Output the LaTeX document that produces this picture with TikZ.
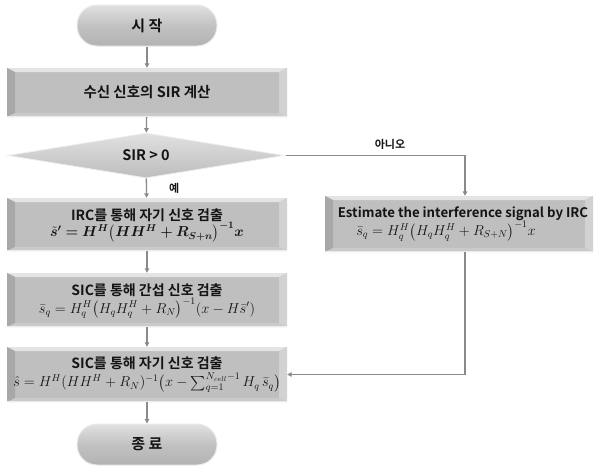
\documentclass[tikz,border=0pt]{standalone}
\usepackage{amsmath,bm}
\usepackage{fontspec}
\newfontfamily\kr{Noto Sans CJK KR}[BoldFont={* Bold}]
\usetikzlibrary{shapes.geometric,arrows.meta}
\definecolor{bxbody}{HTML}{BFBFBF}
\definecolor{bxtop}{HTML}{E4E4E4}
\definecolor{bxleft}{HTML}{A8A8A8}
\definecolor{bxright}{HTML}{D2D2D2}
\definecolor{bxbot}{HTML}{CACACA}
\definecolor{txt}{HTML}{141414}
\definecolor{ln}{HTML}{8A8A8A}
\tikzset{
  bevelbox/.style={rectangle, inner sep=0pt, fill=bxbody, text=txt, align=center,
    font=\kr\bfseries\fontsize{14.5}{17}\selectfont,
    path picture={
      \fill[bxtop] (path picture bounding box.north west) -- (path picture bounding box.north east)
        -- ([xshift=-8pt,yshift=-4pt]path picture bounding box.north east)
        -- ([xshift=8pt,yshift=-4pt]path picture bounding box.north west) -- cycle;
      \fill[bxleft] (path picture bounding box.north west)
        -- ([xshift=8pt,yshift=-4pt]path picture bounding box.north west)
        -- ([xshift=8pt,yshift=4pt]path picture bounding box.south west)
        -- (path picture bounding box.south west) -- cycle;
      \fill[bxright] (path picture bounding box.north east)
        -- ([xshift=-8pt,yshift=-4pt]path picture bounding box.north east)
        -- ([xshift=-8pt,yshift=4pt]path picture bounding box.south east)
        -- (path picture bounding box.south east) -- cycle;
      \fill[bxbot] (path picture bounding box.south west)
        -- ([xshift=8pt,yshift=4pt]path picture bounding box.south west)
        -- ([xshift=-8pt,yshift=4pt]path picture bounding box.south east)
        -- (path picture bounding box.south east) -- cycle;
      \draw[white!92!black,line width=1.2pt] ([yshift=0.6pt]path picture bounding box.south west) -- ([yshift=0.6pt]path picture bounding box.south east);
    }},
  pill/.style={rectangle, rounded corners=20pt, inner sep=0pt, minimum width=140pt, minimum height=41pt,
    top color=white!88!black, bottom color=white!70!black, middle color=white!76!black,
    draw=white!92!black, line width=1pt, text=txt, font=\kr\bfseries\fontsize{15}{17}\selectfont},
  decision/.style={diamond, aspect=6, inner sep=0pt, minimum width=276pt, minimum height=45pt,
    top color=white!88!black, bottom color=white!74!black, draw=white!93!black, line width=0.8pt,
    text=txt, font=\kr\bfseries\fontsize{14.5}{16}\selectfont},
  ttl/.style={inner sep=0pt, text=txt, font=\kr\bfseries\fontsize{14}{16}\selectfont},
  eqn/.style={inner sep=0pt, text=txt, font=\fontsize{14}{16}\selectfont},
  conn/.style={draw=ln, line width=1.3pt, -{Triangle[length=4.5pt,width=4.5pt]}},
  lbl/.style={text=txt, font=\kr\bfseries\fontsize{11}{13}\selectfont, inner sep=0pt}
}
\begin{document}
\begin{tikzpicture}[x=1pt,y=-1pt]
\useasboundingbox[fill=white] (0,0) rectangle (602,469);
\node[pill] (start) at (147,25.5) {시 작};
\node[bevelbox, minimum width=280pt, minimum height=49pt] (calc) at (147,92.5) {수신 신호의 SIR 계산};
\node[decision] (dec) at (146,155.5) {SIR > 0};
% IRC box
\node[bevelbox, minimum width=280pt, minimum height=53pt] (irc) at (147,224.5) {};
\node[ttl] (irc-t) at ([yshift=9pt]irc.center) {IRC를 통해 자기 신호 검출};
\node[eqn] (irc-e) at ([yshift=-7.5pt]irc.center) {$\bm{\tilde{s}' = H^{H}\bigl(HH^{H} + R_{S+n}\bigr)^{-1}x}$};
% SIC 1
\node[bevelbox, minimum width=280pt, minimum height=54pt] (sic1) at (147,300) {};
\node[ttl] (sic1-t) at ([yshift=9.5pt]sic1.center) {SIC를 통해 간섭 신호 검출};
\node[eqn] (sic1-e) at ([yshift=-8.5pt]sic1.center) {$\bar{s}_q = H_q^{H}\bigl(H_qH_q^{H} + R_N\bigr)^{-1}(x - H\bar{s}')$};
% SIC 2
\node[bevelbox, minimum width=280pt, minimum height=55pt] (sic2) at (147,374.5) {};
\node[ttl] (sic2-t) at ([yshift=11pt]sic2.center) {SIC를 통해 자기 신호 검출};
\node[eqn] (sic2-e) at ([yshift=-8.5pt]sic2.center) {$\hat{s} = H^{H}(HH^{H} + R_N)^{-1}\bigl(x - \textstyle\sum_{q=1}^{N_{cell}-1} H_q\,\bar{s}_q\bigr)$};
\node[pill] (stop) at (147,444.5) {종 료};
% right box
\node[bevelbox, minimum width=268pt, minimum height=56pt] (est) at (459,224) {};
\node[ttl, font=\kr\bfseries\fontsize{13.2}{15}\selectfont] (est-t) at ([xshift=4pt,yshift=10pt]est.center) {Estimate the interference signal by IRC};
\node[eqn, font=\fontsize{13.6}{15}\selectfont] (est-e) at ([xshift=-13pt,yshift=-7pt]est.center) {$\bar{s}_q = H_q^{H}\bigl(H_qH_q^{H} + R_{S+N}\bigr)^{-1}x$};
\coordinate (c1) at (465,155.5);
\coordinate (c2) at (465,374.5);
\draw[conn] (start) -- (calc);
\draw[conn] (calc) -- (dec);
\draw[conn] (dec) -- node[lbl, right=22pt, pos=0.5] (yes) {예} (irc);
\draw[conn] (irc) -- (sic1);
\draw[conn] (sic1) -- (sic2);
\draw[conn] (sic2) -- (stop);
\draw[conn] ([xshift=2pt]dec.east) -- (c1) -- (est.north -| c1);
\draw[conn] (est.south -| c2) -- (c2) -- (sic2.east);
\node[lbl] (no) at (390,144) {아니오};
\end{tikzpicture}
\end{document}
